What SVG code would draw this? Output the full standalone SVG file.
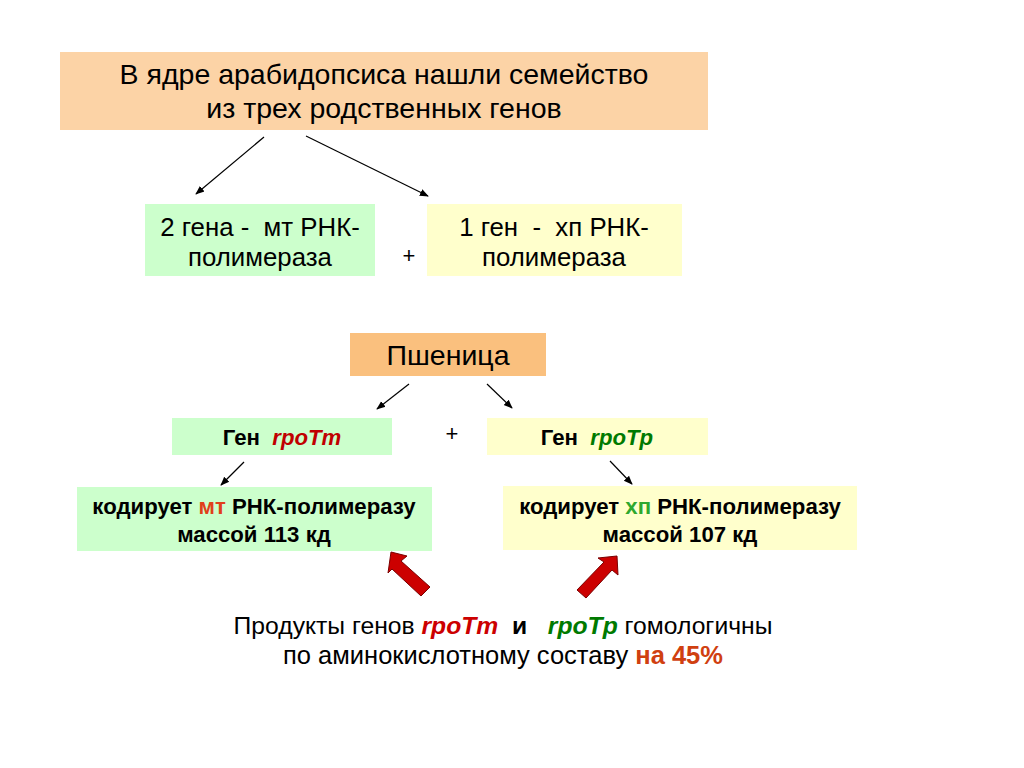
<svg xmlns="http://www.w3.org/2000/svg" width="1024" height="768" viewBox="0 0 1024 768">
<style>
text{font-family:"Liberation Sans",Arial,sans-serif;fill:#000;text-anchor:middle}
.big{font-size:28.5px}
.mid{font-size:25.8px}
.b{font-size:22.2px;font-weight:bold}
.it{font-style:italic;font-weight:bold}
.plus{font-size:22px;fill:#000}
.green{fill:#CCFFCC}
.yellow{fill:#FFFFCC}
.ln{stroke:#000;stroke-width:1.2;fill:none;marker-end:url(#ah)}
.red{fill:#CC0000;stroke:#7A0000;stroke-width:1}
</style>
<defs>
<marker id="ah" viewBox="0 0 10 10" refX="9" refY="5" markerWidth="9" markerHeight="9" markerUnits="userSpaceOnUse" orient="auto">
<path d="M0,1 L10,5 L0,9 z" fill="#000"/>
</marker>
</defs>
<rect width="1024" height="768" fill="#fff"/>

<g id="top">
<rect x="60" y="52" width="648" height="78" fill="#FCD3A6"/>
<text class="big" x="384" y="84">В ядре арабидопсиса нашли семейство</text>
<text class="big" x="384" y="118">из трех родственных генов</text>
</g>

<g id="mt2">
<rect class="green" x="145" y="204" width="230" height="72"/>
<text class="mid" x="260" y="236" xml:space="preserve">2 гена -  мт РНК-</text>
<text class="mid" x="260" y="266">полимераза</text>
</g>

<g id="xp1">
<rect class="yellow" x="427" y="204" width="255" height="72"/>
<text class="mid" x="554" y="236" xml:space="preserve">1 ген  -  хп РНК-</text>
<text class="mid" x="554" y="266">полимераза</text>
</g>

<g id="plus1"><text class="plus" x="409" y="263">+</text></g>

<g id="wheat">
<rect x="350" y="333" width="196" height="43" fill="#FAC07E"/>
<text class="big" x="448" y="365">Пшеница</text>
</g>

<g id="geneTm">
<rect class="green" x="172" y="418" width="220" height="37"/>
<text class="b" x="282" y="445" xml:space="preserve">Ген  <tspan class="it" fill="#C00000">rpoTm</tspan></text>
</g>

<g id="plus2"><text class="plus" x="452" y="441">+</text></g>

<g id="geneTp">
<rect class="yellow" x="487" y="418" width="221" height="37"/>
<text class="b" x="597" y="445" xml:space="preserve">Ген  <tspan class="it" fill="#007A00">rpoTp</tspan></text>
</g>

<g id="mtPol">
<rect class="green" x="77" y="487" width="355" height="64"/>
<text class="b" x="254" y="514">кодирует <tspan fill="#E0401A">мт</tspan> РНК-полимеразу</text>
<text class="b" x="254" y="542">массой 113 кд</text>
</g>

<g id="xpPol">
<rect class="yellow" x="503" y="486" width="354" height="64"/>
<text class="b" x="680" y="514">кодирует <tspan fill="#2EA82E">хп</tspan> РНК-полимеразу</text>
<text class="b" x="680" y="542">массой 107 кд</text>
</g>

<g id="conclusion">
<text style="font-size:24.7px" x="503" y="634" xml:space="preserve">Продукты генов <tspan class="it" fill="#CC0000">rpoTm</tspan>  <tspan font-weight="bold">и</tspan>   <tspan class="it" fill="#007A00">rpoTp</tspan> гомологичны</text>
<text style="font-size:25.5px" x="503" y="664">по аминокислотному составу <tspan font-weight="bold" fill="#D04010">на 45%</tspan></text>
</g>

<g id="connectors">
<line class="ln" x1="264" y1="137" x2="196" y2="194"/>
<line class="ln" x1="306" y1="136" x2="428" y2="196"/>
<line class="ln" x1="409" y1="384" x2="377" y2="409"/>
<line class="ln" x1="487" y1="384" x2="512" y2="408"/>
<line class="ln" x1="244" y1="462" x2="221" y2="485"/>
<line class="ln" x1="610" y1="461" x2="632" y2="484"/>
<polygon class="red" points="391,552 407,556 401,561 430,587 421,596 392,569 388,573"/>
<polygon class="red" points="617,556 618,575 612,570 586,598 577,590 604,562 598,558"/>
</g>
</svg>
